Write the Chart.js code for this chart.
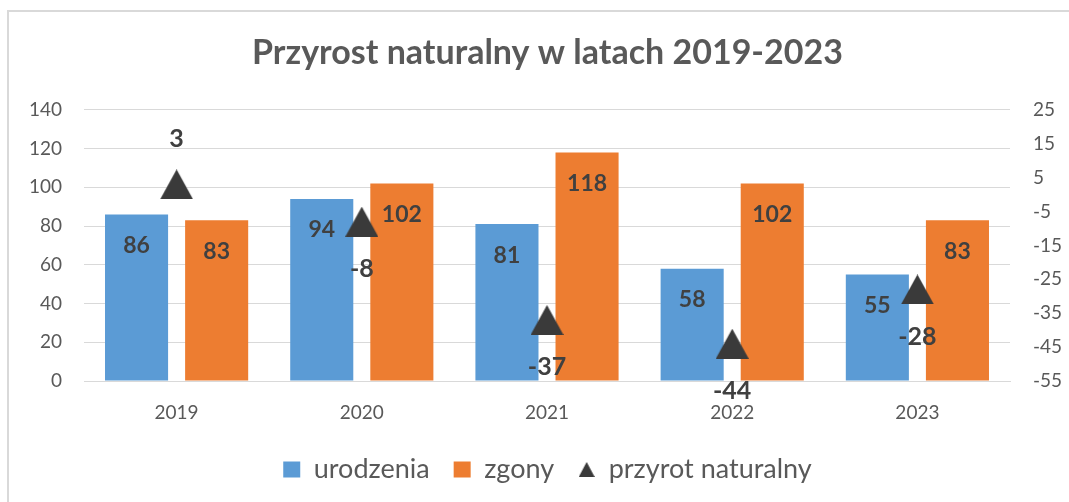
<!DOCTYPE html>
<html><head><meta charset="utf-8">
<script src="https://cdn.jsdelivr.net/npm/chart.js@4"></script>
<style>
html,body{margin:0;padding:0;background:#fff;}
#wrap{position:relative;width:1069px;height:502px;overflow:hidden;}
#frame{position:absolute;left:7px;top:10px;width:1100px;height:600px;border-left:2px solid #d9d9d9;border-top:2px solid #d9d9d9;}
canvas{position:absolute;left:0;top:0;}
</style></head>
<body><div id="wrap"><div id="frame"></div><canvas id="c" width="1069" height="502"></canvas></div>
<script>
const categories = ['2019','2020','2021','2022','2023'];
const urodzenia = [86, 94, 81, 58, 55];
const zgony = [83, 102, 118, 102, 83];
const przyrost = [3, -8, -37, -44, -28];
const leftTicks = [0,20,40,60,80,100,120,140];
const rightTicks = [-55,-45,-35,-25,-15,-5,5,15,25];

const FONT = 'Lato, "Open Sans", sans-serif';
const GREY = '#595959';
const DARK = '#404040';

function triCanvas(w, h, color){
  const cv = document.createElement('canvas');
  cv.width = w; cv.height = h;
  const x = cv.getContext('2d');
  x.fillStyle = color;
  x.beginPath(); x.moveTo(w/2,0); x.lineTo(w,h); x.lineTo(0,h); x.closePath(); x.fill();
  return cv;
}
const tri = triCanvas(33, 30, '#3a3a3a');
const triSmall = triCanvas(16, 15, '#3a3a3a');

const labelPlugin = {
  id: 'valueLabels',
  afterDatasetsDraw(chart){
    const ctx = chart.ctx;
    ctx.save();
    ctx.textAlign = 'center';
    ctx.textBaseline = 'middle';
    chart.data.datasets.forEach((ds, di) => {
      const meta = chart.getDatasetMeta(di);
      meta.data.forEach((el, i) => {
        const v = ds.data[i];
        ctx.fillStyle = DARK;
        if (ds.type === 'bar') {
          ctx.font = 'bold 23px ' + FONT;
          ctx.fillText(String(v), el.x, el.y + 31);
        } else {
          ctx.font = 'bold 25px ' + FONT;
          const off = v >= 0 ? -45 : 47;
          ctx.fillText(String(v), el.x, el.y + off);
        }
      });
    });
    ctx.restore();
  }
};

new Chart(document.getElementById('c'), {
  data: {
    labels: categories,
    datasets: [
      { type:'bar', label:'urodzenia', data: urodzenia, backgroundColor:'#5b9bd5', yAxisID:'y', order:2,
        categoryPercentage:0.865, barPercentage:0.7875 },
      { type:'bar', label:'zgony', data: zgony, backgroundColor:'#ed7d31', yAxisID:'y', order:2,
        categoryPercentage:0.865, barPercentage:0.7875 },
      { type:'line', label:'przyrot naturalny', data: przyrost, yAxisID:'y2', order:1,
        showLine:false, pointStyle: tri, backgroundColor:'#3a3a3a', borderColor:'#3a3a3a' }
    ]
  },
  options: {
    responsive:false, animation:false,
    layout:{ padding:{ left:26, right:0, top:0, bottom:9 } },
    scales: {
      x: { grid:{ display:false, drawTicks:false }, border:{ display:true, color:'#d9d9d9', width:1 },
           ticks:{ color:GREY, font:{ family:FONT, size:19 }, padding:20 },
           afterFit(s){ s.height = 51; } },
      y: { position:'left', min:0, max:140,
           afterBuildTicks(s){ s.ticks = leftTicks.map(v=>({value:v})); },
           afterFit(s){ s.width = 58; },
           grid:{ color:'#d9d9d9', drawTicks:false }, border:{ display:false },
           ticks:{ color:GREY, font:{ family:FONT, size:19 }, padding:22 } },
      y2: { position:'right', min:-55, max:25,
           afterBuildTicks(s){ s.ticks = rightTicks.map(v=>({value:v})); },
           afterFit(s){ s.width = 59; },
           grid:{ display:false, drawTicks:false }, border:{ display:false },
           ticks:{ color:GREY, font:{ family:FONT, size:19 }, padding:23 } }
    },
    plugins: {
      title: { display:true, text:'Przyrost naturalny w latach 2019-2023', color:GREY,
               font:{ family:FONT, size:34, weight:'bold' }, padding:{ top:33, bottom:36 } },
      legend: { position:'bottom',
        labels: { color:GREY, font:{ family:FONT, size:27 }, usePointStyle:true, boxWidth:17, boxHeight:16, pointStyleWidth:17, padding:24,
          generateLabels(chart){
            return chart.data.datasets.map((ds,i)=>({
              text: ds.label, fillStyle: ds.backgroundColor, strokeStyle: ds.backgroundColor, lineWidth:0,
              pointStyle: ds.type==='line' ? triSmall : 'rect', datasetIndex:i, hidden:false, fontColor:GREY
            }));
          } } },
      tooltip: { enabled:false }
    }
  },
  plugins:[labelPlugin]
});
</script>
</body></html>
